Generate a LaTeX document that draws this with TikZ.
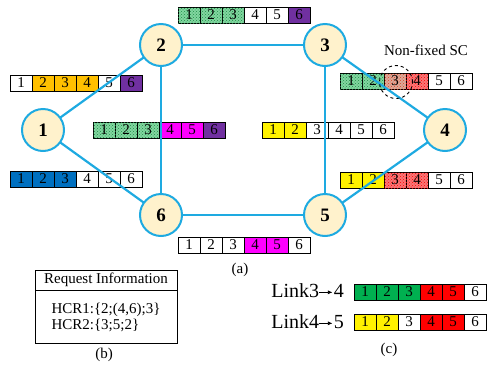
\documentclass[tikz,border=0pt]{standalone}
\usepackage{fontspec}
\setmainfont{Liberation Serif}
\usetikzlibrary{patterns,positioning,arrows.meta}
\definecolor{edgec}{RGB}{30,170,225}
\definecolor{nodefill}{RGB}{255,242,204}
\definecolor{lgreen}{RGB}{130,215,160}
\definecolor{dgreen}{RGB}{30,140,70}
\definecolor{orangec}{RGB}{255,192,0}
\definecolor{purplec}{RGB}{112,48,160}
\definecolor{bluec}{RGB}{0,112,192}
\definecolor{greenc}{RGB}{0,176,80}
\definecolor{magc}{RGB}{255,0,255}
\definecolor{pinkc}{RGB}{220,170,155}
\definecolor{lred}{RGB}{250,120,120}
\tikzset{
  cell/.style={draw=black, line width=0.8pt, minimum width=22pt, minimum height=16pt, inner sep=0pt, font=\fontsize{15}{16}\selectfont, fill=white},
  sw/.style={fill=white},
  sg/.style={fill=lgreen, postaction={pattern=crosshatch dots, pattern color=dgreen}},
  so/.style={fill=orangec},
  sp/.style={fill=purplec},
  sm/.style={fill=magc},
  sy/.style={fill=yellow},
  sb/.style={fill=bluec},
  sG/.style={fill=greenc},
  sR/.style={fill=red},
  spk/.style={fill=pinkc, postaction={pattern=crosshatch dots, pattern color=red!50!brown}},
  srh/.style={fill=lred, postaction={pattern=crosshatch dots, pattern color=red}},
  netnode/.style={circle, draw=edgec, fill=nodefill, line width=2pt, minimum size=42pt, inner sep=0pt, font=\fontsize{19}{20}\selectfont\bfseries},
  link/.style={draw=edgec, line width=2.2pt},
  txt/.style={font=\fontsize{15}{16}\selectfont},
}
\newcommand\slotbar[4]{\foreach[count=\i] \s in {#4}{\node[cell,\s] (#1-\i) at ({#2+\i*22-11},#3) {\i};}}
\newcommand\linkarrow{\tikz[baseline=0pt]{\draw[-{Latex[length=4.5pt,width=4pt]}, line width=0.7pt] (0pt,5.5pt) -- (13pt,5.5pt);}}
\begin{document}
\begin{tikzpicture}[x=1pt,y=-1pt]
\useasboundingbox (0,0) rectangle (488,373);
% nodes coordinates
\coordinate (c1) at (43,130);
\coordinate (c2) at (161,45);
\coordinate (c3) at (325,45);
\coordinate (c4) at (445,130);
\coordinate (c5) at (325,215);
\coordinate (c6) at (161,215);
% slot bars
\slotbar{top}{178}{15}{sg,sg,sg,sw,sw,sp}
\slotbar{ltwo}{10}{83}{sw,so,so,so,sw,sp}
\slotbar{rthree}{340}{81}{sg,sg,spk,srh,sw,sw}
\slotbar{ml}{93}{130}{sg,sg,sg,sm,sm,sp}
\slotbar{mr}{262}{130}{sy,sy,sw,sw,sw,sw}
\slotbar{bl}{10}{179}{sb,sb,sb,sw,sw,sw}
\slotbar{br}{340}{180}{sy,sy,srh,srh,sw,sw}
\slotbar{bot}{178}{245}{sw,sw,sw,sm,sm,sw}
% links
\draw[link] (c1) -- (c2);
\draw[link] (c1) -- (c6);
\draw[link] (c2) -- (c3);
\draw[link] (c2) -- (c6);
\draw[link] (c3) -- (c5);
\draw[link] (c3) -- (c4);
\draw[link] (c4) -- (c5);
\draw[link] (c6) -- (c5);
% network nodes
\foreach \k in {1,...,6}{\node[netnode] (n\k) at (c\k) {\k};}
% non-fixed SC
\node[circle, draw, dashed, line width=0.9pt, minimum size=33pt] (nfc) at (396,82) {};
\node[txt] (nflabel) at (426,50) {Non-fixed SC};
\node[txt] (cap-a) at (240,270) {(a)};
% request info
\node[draw, line width=0.9pt, minimum width=142pt, minimum height=20pt, inner sep=0pt, txt] (reqhead) at (106,280) {Request Information};
\node[draw, line width=0.9pt, minimum width=142pt, minimum height=53pt, inner sep=0pt, anchor=north, align=left, font=\fontsize{15}{15.5}\selectfont] (reqbody) at (reqhead.south) {HCR1:\{2;(4,6);3\}\\HCR2:\{3;5;2\}};
\node[txt] (cap-b) at (104,355) {(b)};
% link spectrum
\node[font=\fontsize{20}{22}\selectfont, anchor=east, inner sep=0pt] (l34) at (344,291) {Link3\linkarrow\hspace{1pt}4};
\node[font=\fontsize{20}{22}\selectfont, anchor=east, inner sep=0pt] (l45) at (344,322) {Link4\linkarrow\hspace{1pt}5};
\slotbar{lka}{354}{292}{sG,sG,sG,sR,sR,sw}
\slotbar{lkb}{354}{322}{sy,sy,sw,sR,sR,sw}
\node[txt] (cap-c) at (389,350) {(c)};
\end{tikzpicture}
\end{document}
